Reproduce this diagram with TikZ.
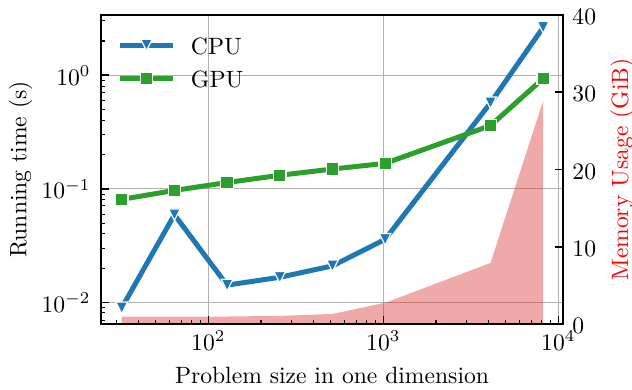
\documentclass[tikz,border=0pt]{standalone}
\usetikzlibrary{calc}

\definecolor{cpublue}{RGB}{31,119,180}
\definecolor{gpugreen}{RGB}{44,160,44}
\definecolor{memred}{RGB}{214,39,40}
\definecolor{gridgray}{RGB}{178,178,178}

\begin{document}
\begin{tikzpicture}[x=1pt,y=-1pt,
  declare function={
    px(\v)=208.33+175*(log10(\v)-2);
    py(\v)=75.2-113.8*log10(\v);
    my(\v)=324-7.725*\v;
  },
  txt/.style={inner sep=0pt, scale=2.36},
  gridline/.style={gridgray, line width=1pt},
  minortick/.style={black, line width=1.1pt},
  majortick/.style={black, line width=1.6pt},
  spine/.style={black, line width=2.2pt},
  cpuline/.style={cpublue, line width=5pt, line join=round},
  gpuline/.style={gpugreen, line width=5pt, line join=round},
  tridown/.pic={\path[fill=cpublue, draw=white, line width=1.2pt]
      (-5.8,-5.8) -- (5.8,-5.8) -- (0,5.8) -- cycle;},
  sqmark/.pic={\path[fill=gpugreen, draw=white, line width=1.2pt]
      (-6.2,-6.2) rectangle (6.2,6.2);},
]
\useasboundingbox (0,0) rectangle (632,389);

% grid of the log axes
\foreach \v in {100,1000,10000}
  \draw[gridline] ({px(\v)},15) -- ({px(\v)},324);
\foreach \v in {1,0.1,0.01}
  \draw[gridline] (101,{py(\v)}) -- (563,{py(\v)});

% memory usage, right axis (GiB)
\coordinate (m1) at ({px(32)},{my(0.95)});
\coordinate (m2) at ({px(64)},{my(0.95)});
\coordinate (m3) at ({px(128)},{my(0.97)});
\coordinate (m4) at ({px(256)},{my(1.05)});
\coordinate (m5) at ({px(512)},{my(1.3)});
\coordinate (m6) at ({px(1024)},{my(2.75)});
\coordinate (m7) at ({px(4096)},{my(7.9)});
\coordinate (m8) at ({px(8192)},{my(28.9)});
\coordinate (m8b) at ({px(8192)},{my(0)});
\coordinate (m1b) at ({px(32)},{my(0)});
\fill[memred, opacity=0.4] (m1) -- (m2) -- (m3) -- (m4) -- (m5) -- (m6)
  -- (m7) -- (m8) -- (m8b) -- (m1b) -- cycle;

% running times
\foreach \n/\x/\y in {1/32/0.0089, 2/64/0.0594, 3/128/0.0143, 4/256/0.0164,
                      5/512/0.021, 6/1024/0.0356, 7/4096/0.571, 8/8192/2.63}
  \coordinate (c\n) at ({px(\x)},{py(\y)});
\foreach \n/\x/\y in {1/32/0.0805, 2/64/0.097, 3/128/0.114, 4/256/0.129,
                      5/512/0.148, 6/1024/0.167, 7/4096/0.361, 8/8192/0.935}
  \coordinate (g\n) at ({px(\x)},{py(\y)});

\draw[cpuline] (c1) -- (c2) -- (c3) -- (c4) -- (c5) -- (c6) -- (c7) -- (c8);
\foreach \n in {1,...,8} \pic at (c\n) {tridown};
\draw[gpuline] (g1) -- (g2) -- (g3) -- (g4) -- (g5) -- (g6) -- (g7) -- (g8);
\foreach \n in {1,...,8} \pic at (g\n) {sqmark};

% legend
\coordinate (lc0) at (120,45);   \coordinate (lc1) at (173,45);
\coordinate (lg0) at (120,78.5); \coordinate (lg1) at (173,78.5);
\draw[cpublue, line width=5pt] (lc0) -- (lc1);
\pic at ($(lc0)!0.5!(lc1)$) {tridown};
\draw[gpugreen, line width=5pt] (lg0) -- (lg1);
\pic at ($(lg0)!0.5!(lg1)$) {sqmark};
\node[txt, anchor=base west] (lcpu) at (190.5,54.3) {CPU};
\node[txt, anchor=base west] (lgpu) at (190.5,87.5) {GPU};

% ticks of the bottom axis
\foreach \v in {30,40,50,60,70,80,90,200,300,400,500,600,700,800,900,
                2000,3000,4000,5000,6000,7000,8000,9000}
  \draw[minortick] ({px(\v)},324) -- ++(0,-4.2);
\foreach \v in {100,1000,10000}
  \draw[majortick] ({px(\v)},324) -- ++(0,-8);
\node[txt, anchor=base] (xt2) at ({px(100)},350) {$10^{2}$};
\node[txt, anchor=base] (xt3) at ({px(1000)},350) {$10^{3}$};
\node[txt, anchor=base] (xt4) at ({px(10000)},350) {$10^{4}$};

% ticks of the left axis
\foreach \v in {0.007,0.008,0.009,0.02,0.03,0.04,0.05,0.06,0.07,0.08,0.09,
                0.2,0.3,0.4,0.5,0.6,0.7,0.8,0.9,2,3}
  \draw[minortick] (101,{py(\v)}) -- ++(4.2,0);
\foreach \v in {1,0.1,0.01}
  \draw[majortick] (101,{py(\v)}) -- ++(8,0);
\node[txt, anchor=base east] (yt0) at (91,{py(1)+10}) {$10^{0}$};
\node[txt, anchor=base east] (yt1) at (91,{py(0.1)+10}) {$10^{-1}$};
\node[txt, anchor=base east] (yt2) at (91,{py(0.01)+10}) {$10^{-2}$};

% ticks of the right axis
\foreach \v in {0,10,20,30,40}{
  \draw[majortick] (563,{my(\v)}) -- ++(-8,0);
  \node[txt, anchor=base west] (rt\v) at (572,{my(\v)+9.5}) {$\v$};
}

% axis labels
\node[txt, anchor=base] (xlab) at (332,383) {Problem size in one dimension};
\node[txt, anchor=base, rotate=90] (ylab) at (26.5,169.5) {Running time (s)};
\node[txt, anchor=base, rotate=90, text=red] (rlab) at (628,169.5) {Memory Usage (GiB)};

% frame
\draw[spine] (101,15) rectangle (563,324);
\end{tikzpicture}
\end{document}
